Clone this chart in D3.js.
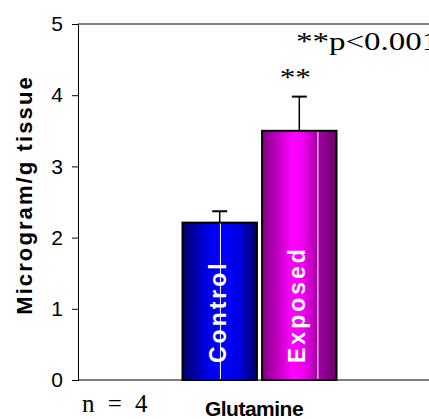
<!DOCTYPE html>
<html lang="en">
<head>
    <meta charset="UTF-8">
    <title>Glutamine</title>
    <script src="https://d3js.org/d3.v7.min.js"></script>
    <style>
        body { margin: 0; background: #fff; }
        svg { display: block; }
    </style>
</head>
<body>
    <div class="viz"></div>
    <script>
        const groups = ["Control", "Exposed"];
        const values = [2.21, 3.50];
        const errors = [0.16, 0.48];
        const yTicks = [0, 1, 2, 3, 4, 5];

        const width = 429, height = 419;
        const margin = { left: 78, top: 24, bottom: 39 };
        const sans = 'Liberation Sans, Arial, sans-serif';
        const serif = 'Liberation Serif, Times New Roman, serif';

        const svg = d3.select('.viz').append('svg')
            .attr('width', width)
            .attr('height', height);

        const y = d3.scaleLinear().domain([0, 5]).range([height - margin.bottom, margin.top]);
        const x = d3.scaleBand().domain(groups).range([182.5, 336.5]).paddingInner(0.065);

        const defs = svg.append('defs');
        const grads = [
            { id: 'gC', stops: [['0%', '#000066'], ['35%', '#0000ee'], ['50%', '#0000ff'], ['75%', '#0000e6'], ['100%', '#000066']] },
            { id: 'gE', stops: [['0%', '#800080'], ['40%', '#ff00ff'], ['55%', '#f200f2'], ['72%', '#b000b0'], ['100%', '#660066']] }
        ];
        grads.forEach(g => {
            const lg = defs.append('linearGradient').attr('id', g.id)
                .attr('x1', '0%').attr('x2', '100%').attr('y1', '0%').attr('y2', '0%');
            g.stops.forEach(s => lg.append('stop').attr('offset', s[0]).attr('stop-color', s[1]));
        });

        // frame lines
        svg.append('line')
            .attr('x1', margin.left).attr('x2', width)
            .attr('y1', y(5)).attr('y2', y(5))
            .attr('stroke', '#808080').attr('stroke-width', 2);
        svg.append('line')
            .attr('x1', margin.left).attr('x2', width)
            .attr('y1', y(0)).attr('y2', y(0))
            .attr('stroke', '#808080').attr('stroke-width', 2);

        // y axis
        const yAxis = svg.append('g')
            .attr('transform', `translate(${margin.left},0)`)
            .call(d3.axisLeft(y).tickValues(yTicks).tickSize(6).tickPadding(9).tickFormat(d3.format('d')));
        yAxis.select('.domain').attr('stroke', '#000').attr('stroke-width', 1);
        yAxis.selectAll('.tick line').attr('stroke', '#000');
        yAxis.selectAll('.tick text')
            .attr('font-family', sans)
            .attr('font-size', 21)
            .attr('fill', '#000');

        // bars
        const bars = svg.selectAll('.bar').data(groups).enter().append('g');
        bars.append('rect')
            .attr('x', d => x(d))
            .attr('y', (d, i) => y(values[i]))
            .attr('width', x.bandwidth())
            .attr('height', (d, i) => y(0) - y(values[i]))
            .attr('fill', (d, i) => i === 0 ? 'url(#gC)' : 'url(#gE)')
            .attr('stroke', '#000').attr('stroke-width', 2);
        bars.append('line')
            .attr('x1', (d, i) => x(d) + x.bandwidth() * (i === 0 ? 0.51 : 0.75))
            .attr('x2', (d, i) => x(d) + x.bandwidth() * (i === 0 ? 0.51 : 0.75))
            .attr('y1', (d, i) => y(values[i]) + 1)
            .attr('y2', y(0) - 1)
            .attr('stroke', '#fff').attr('stroke-width', 1);

        // error bars
        bars.append('line')
            .attr('x1', d => x(d) + x.bandwidth() / 2)
            .attr('x2', d => x(d) + x.bandwidth() / 2)
            .attr('y1', (d, i) => y(values[i]))
            .attr('y2', (d, i) => y(values[i] + errors[i]))
            .attr('stroke', '#000').attr('stroke-width', 1.5);
        bars.append('line')
            .attr('x1', d => x(d) + x.bandwidth() / 2 - 7.5)
            .attr('x2', d => x(d) + x.bandwidth() / 2 + 7.5)
            .attr('y1', (d, i) => y(values[i] + errors[i]))
            .attr('y2', (d, i) => y(values[i] + errors[i]))
            .attr('stroke', '#000').attr('stroke-width', 2);

        // labels inside bars
        bars.append('text')
            .attr('transform', d => `translate(${x(d) + x.bandwidth() / 2 + 6},${y(0) - 17}) rotate(-90)`)
            .attr('font-family', sans)
            .attr('font-weight', 'bold')
            .attr('font-size', 23)
            .attr('letter-spacing', 3)
            .attr('fill', '#fff')
            .text(d => d);

        // significance
        svg.append('text')
            .attr('transform', `translate(${x('Exposed') + x.bandwidth() / 2 - 4},86) scale(1.25,1)`)
            .attr('text-anchor', 'middle')
            .attr('font-family', serif)
            .attr('font-size', 25)
            .text('**');
        svg.append('text')
            .attr('transform', 'translate(296,50) scale(1.32,1)')
            .attr('font-family', serif)
            .attr('font-size', 25)
            .text('**p<0.001');

        // y label
        svg.append('text')
            .attr('transform', 'translate(32,195) rotate(-90)')
            .attr('text-anchor', 'middle')
            .attr('font-family', sans)
            .attr('font-weight', 'bold')
            .attr('font-size', 22)
            .attr('letter-spacing', 2.1)
            .text('Microgram/g tissue');

        // x label
        svg.append('text')
            .attr('x', 254).attr('y', 416)
            .attr('text-anchor', 'middle')
            .attr('font-family', sans)
            .attr('font-weight', 'bold')
            .attr('font-size', 21)
            .attr('letter-spacing', -0.5)
            .text('Glutamine');

        svg.append('text')
            .attr('x', 82).attr('y', 412)
            .attr('font-family', serif)
            .attr('font-size', 25)
            .attr('word-spacing', 7)
            .text('n = 4');
    </script>
</body>
</html>
